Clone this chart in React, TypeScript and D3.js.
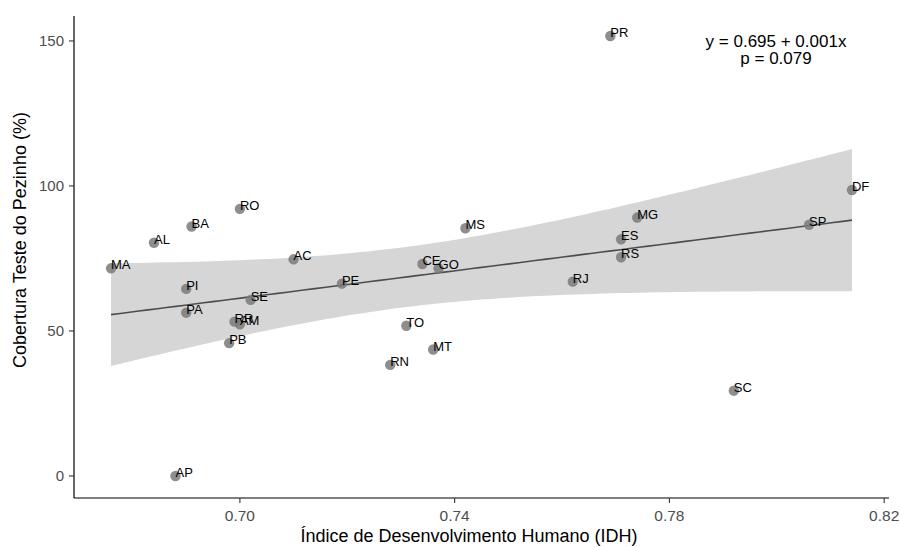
import React from 'react';
import * as d3 from 'd3';

// estados e valores
const states = ['MA', 'AL', 'BA', 'RO', 'AC', 'PI', 'SE', 'PA', 'RR', 'AM', 'PB', 'PE', 'AP', 'MS', 'CE', 'GO', 'TO', 'MT', 'RN', 'RJ', 'ES', 'RS', 'PR', 'DF', 'MG', 'SP', 'SC'];
const idh = [0.676, 0.684, 0.691, 0.700, 0.710, 0.690, 0.702, 0.690, 0.699, 0.700, 0.698, 0.719, 0.688, 0.742, 0.734, 0.737, 0.731, 0.736, 0.728, 0.762, 0.771, 0.771, 0.769, 0.814, 0.774, 0.806, 0.792];
const cobertura = [71.6, 80.4, 86.0, 92.1, 74.7, 64.5, 60.7, 56.3, 53.2, 52.3, 45.8, 66.3, 0.0, 85.4, 73.1, 71.6, 51.8, 43.6, 38.3, 67.0, 81.6, 75.4, 151.7, 98.6, 89.1, 86.6, 29.4];

const xTicks = [0.70, 0.74, 0.78, 0.82];
const yTicks = [0, 50, 100, 150];
const eqLines = ['y = 0.695 + 0.001x', 'p = 0.079'];

const W = 900, H = 547;
const left = 74, right = 889, top = 16, bottom = 498;
const FONT = '"Liberation Sans", Arial, sans-serif';

export default function App() {
  const [xmin, xmax] = d3.extent(idh) as [number, number];
  const pad = (xmax - xmin) * 0.05;
  const x = d3.scaleLinear().domain([xmin - pad, xmax + pad]).range([left, right]);
  const y = d3.scaleLinear().domain([-7.6, 158.6]).range([bottom, top]);

  // regressao linear + IC 95%
  const n = idh.length;
  const mx = d3.mean(idh)!, my = d3.mean(cobertura)!;
  let sxx = 0, sxy = 0;
  idh.forEach((v, i) => { sxx += (v - mx) ** 2; sxy += (v - mx) * (cobertura[i] - my); });
  const b = sxy / sxx, a = my - b * mx;
  let sse = 0;
  idh.forEach((v, i) => { sse += (cobertura[i] - (a + b * v)) ** 2; });
  const s = Math.sqrt(sse / (n - 2));
  const t = 2.0595; // t(0.975, 25)

  const grid = d3.range(0, 81).map(i => xmin + (xmax - xmin) * i / 80);
  const fit = grid.map(v => {
    const yh = a + b * v;
    const se = s * Math.sqrt(1 / n + (v - mx) ** 2 / sxx);
    return { v, yh, lo: yh - t * se, hi: yh + t * se };
  });

  const band = d3.area<any>().x(d => x(d.v)).y0(d => y(d.lo)).y1(d => y(d.hi))(fit);
  const line = d3.line<any>().x(d => x(d.v)).y(d => y(d.yh))(fit);

  return (
    <svg width={W} height={H} style={{ position: 'absolute', left: 0, top: 0, background: '#fff' }} fontFamily={FONT}>
      <path d={band!} fill="#d6d6d6" />
      <path d={line!} fill="none" stroke="#4d4d4d" strokeWidth={1.6} />

      {states.map((st, i) => (
        <circle key={st} cx={x(idh[i])} cy={y(cobertura[i])} r={5.2} fill="#7a7a7a" fillOpacity={0.85} />
      ))}
      {states.map((st, i) => (
        <text key={'l' + st} x={x(idh[i])} y={y(cobertura[i]) + 1} fontSize={13} fill="#000">{st}</text>
      ))}

      {/* eixos */}
      <line x1={left} x2={left} y1={top} y2={bottom} stroke="#000" strokeWidth={1.2} />
      <line x1={left} x2={right} y1={bottom} y2={bottom} stroke="#000" strokeWidth={1.2} />
      {yTicks.map(v => (
        <g key={'y' + v}>
          <line x1={left - 5} x2={left} y1={y(v)} y2={y(v)} stroke="#333" strokeWidth={1.1} />
          <text x={left - 10} y={y(v)} dy="0.35em" textAnchor="end" fontSize={15} fill="#4d4d4d">{v}</text>
        </g>
      ))}
      {xTicks.map(v => (
        <g key={'x' + v}>
          <line x1={x(v)} x2={x(v)} y1={bottom} y2={bottom + 5} stroke="#333" strokeWidth={1.1} />
          <text x={x(v)} y={521} textAnchor="middle" fontSize={15.5} fill="#4d4d4d">{v.toFixed(2)}</text>
        </g>
      ))}

      <text x={469} y={542} textAnchor="middle" fontSize={18} fill="#000">Índice de Desenvolvimento Humano (IDH)</text>
      <text transform="translate(26,240) rotate(-90)" textAnchor="middle" fontSize={18} fill="#000">Cobertura Teste do Pezinho (%)</text>

      {eqLines.map((l, i) => (
        <text key={l} x={776} y={46.5 + i * 17.6} textAnchor="middle" fontSize={17} fill="#000">{l}</text>
      ))}
    </svg>
  );
}
